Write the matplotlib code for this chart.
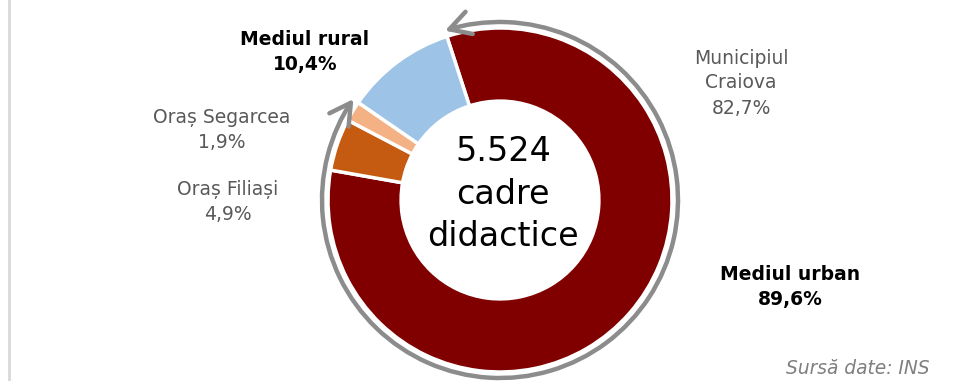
import numpy as np
import matplotlib
matplotlib.use('Agg')
import matplotlib.pyplot as plt
from matplotlib.patches import FancyArrowPatch
from matplotlib.path import Path
from matplotlib.transforms import Affine2D

# date: cadre didactice pe medii (%)
categorii = ['Municipiul Craiova', 'Oraș Filiași', 'Oraș Segarcea', 'Mediul rural']
procente = [82.7, 4.9, 1.9, 10.4]
culori = ['#800000', '#c55a11', '#f4b183', '#9dc3e6']
etichete = ['Municipiul\nCraiova\n82,7%', 'Oraș Filiași\n4,9%', 'Oraș Segarcea\n1,9%']
urban_pct = 89.6
rural_pct = 10.4
total_cadre = '5.524'

W, H = 977, 381
fig = plt.figure(figsize=(W / 100, H / 100), dpi=100)
ax = fig.add_axes([0, 0, 1, 1])

cx, cy = 500, H - 200
R = 172
start = 108

ax.pie(procente, colors=culori, startangle=start, counterclock=False,
       center=(cx, cy), radius=R, frame=True,
       wedgeprops=dict(width=R * 0.425, edgecolor='white', linewidth=2.5))
ax.set_xlim(0, W)
ax.set_ylim(0, H)
ax.axis('off')

# sageata dubla in jurul mediului urban
r_arc = 178
t_end = start - urban_pct / 100 * 360
arc = Path.arc(t_end, start).transformed(Affine2D().scale(r_arc).translate(cx, cy))
ax.add_patch(FancyArrowPatch(path=arc, arrowstyle='<->,head_length=0.75,head_width=0.42',
                             mutation_scale=20, color='#8c8c8c', lw=3.2))

# etichete
gri = '#595959'
fs = 13.5
ax.text(741, H - 83, etichete[0], ha='center', va='center', fontsize=fs,
        color=gri, linespacing=1.4)
ax.text(228, H - 202, etichete[1], ha='center', va='center', fontsize=fs,
        color=gri, linespacing=1.4)
ax.text(222, H - 130, etichete[2], ha='center', va='center', fontsize=fs,
        color=gri, linespacing=1.4)
ax.text(305, H - 52, 'Mediul rural\n' + f'{rural_pct:.1f}%'.replace('.', ','),
        ha='center', va='center', fontsize=fs, fontweight='bold',
        color='black', linespacing=1.4)
ax.text(790, H - 287, 'Mediul urban\n' + f'{urban_pct:.1f}%'.replace('.', ','),
        ha='center', va='center', fontsize=fs, fontweight='bold',
        color='black', linespacing=1.4)
ax.text(cx + 3, cy + 6, total_cadre + '\ncadre\ndidactice', ha='center', va='center',
        fontsize=24, color='black', linespacing=1.38)
ax.text(930, H - 368, 'Sursă date: INS', ha='right', va='center', fontsize=13.4,
        style='italic', color='#7f7f7f')

# bordura stanga
ax.plot([9, 9], [0, H], color='#d9d9d9', lw=2)

fig.savefig('out.png', dpi=100)
